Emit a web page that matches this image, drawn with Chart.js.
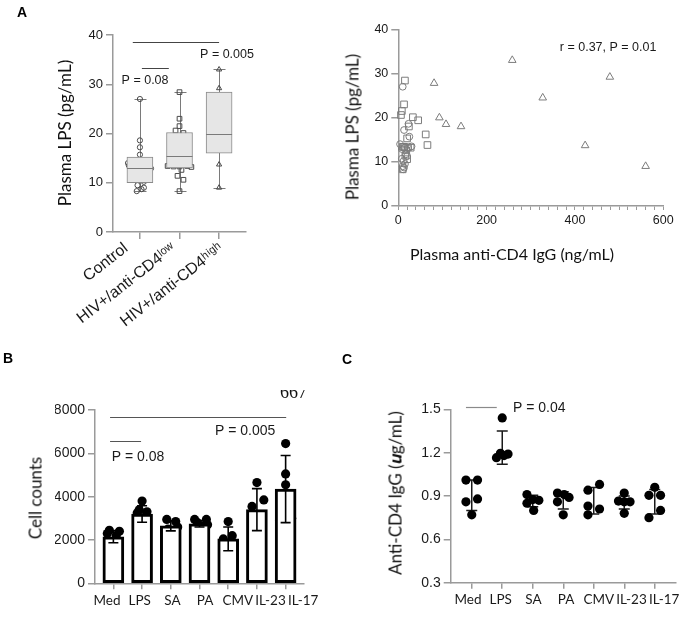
<!DOCTYPE html>
<html><head><meta charset="utf-8">
<script src="https://cdn.jsdelivr.net/npm/chart.js@4.4.1/dist/chart.umd.min.js"></script>
<style>
html,body{margin:0;padding:0;background:#fff;}
#wrap{position:relative;width:685px;height:627px;overflow:hidden;background:#fff;}
canvas{position:absolute;left:0;top:0;}
.pl{position:absolute;font-family:"Liberation Sans",Arial,sans-serif;font-weight:bold;font-size:14px;line-height:1;color:#000;}
.yt{position:absolute;transform:translate(-50%,-50%) rotate(-90deg);white-space:nowrap;font-family:Lato,"Open Sans",sans-serif;font-size:17px;line-height:1;color:#111;}
.xt{position:absolute;transform:translate(-50%,-50%);white-space:nowrap;font-family:Lato,"Open Sans",sans-serif;font-size:16px;line-height:1;color:#111;}
.cut{position:absolute;overflow:hidden;}
.cut span{display:block;font-family:"Liberation Serif","Times New Roman",serif;font-size:18px;line-height:1;color:#111;}
</style></head><body>
<div id="wrap">
<canvas id="cA1" width="685" height="627"></canvas>
<canvas id="cA2" width="685" height="627"></canvas>
<canvas id="cB" width="685" height="627"></canvas>
<canvas id="cC" width="685" height="627"></canvas>
<div class="pl" style="left:17px;top:5px">A</div>
<div class="pl" style="left:3px;top:351px">B</div>
<div class="pl" style="left:342px;top:352px">C</div>
<div class="yt" style="left:64px;top:133px">Plasma LPS (pg/mL)</div>
<div class="yt" style="left:352px;top:127px">Plasma LPS (pg/mL)</div>
<div class="xt" style="left:512px;top:254px">Plasma anti-CD4 IgG (ng/mL)</div>
<div class="yt" style="left:35px;top:498px">Cell counts</div>
<div class="yt" style="left:395px;top:493px">Anti-CD4 IgG (𝒖g/mL)</div>
<div class="cut" style="left:280px;top:390px;width:32px;height:9px"><span style="margin-top:-7px">667</span></div>
</div>
<script>
// ================= DATA =================
// Panel A (left): plasma LPS (pg/mL) per subject, by group
const groupLabels = ['Control', 'HIV+/anti-CD4ˡᵒʷ', 'HIV+/anti-CD4ʰⁱᵍʰ'];
const lpsControl = [27.0, 18.6, 17.2, 15.7, 14.0, 13.5, 13.2, 13.1, 12.9, 11.7, 11.3, 10.7, 10.2, 9.5, 9.0, 8.7, 8.3];
const lpsLow = [28.4, 23.0, 21.5, 20.6, 20.1, 19.4, 18.0, 16.2, 15.3, 13.8, 13.4, 13.3, 13.3, 13.2, 13.4, 12.6, 11.4, 10.6, 8.3];
const lpsHigh = [33.0, 29.2, 27.8, 24.5, 20.0, 18.5, 18.0, 13.7, 9.0];
const boxMin = [8.3, 8.3, 9.0];
const boxQ1 = [10.0, 13.0, 16.0];
const boxMedian = [13.0, 15.4, 20.0];
const boxQ3 = [15.2, 20.2, 28.4];
const boxMax = [27.0, 28.4, 33.0];
// Panel A (right): plasma anti-CD4 IgG (ng/mL), same subjects
const igControl = [10, 23, 13, 25, 4, 30, 14, 22, 8, 17, 20, 8, 12, 15, 10, 13, 11];
const igLow = [15, 13, 8, 6, 33, 45, 24, 62, 20, 66, 10, 14, 22, 28, 12, 18, 16, 20, 10];
const igHigh = [258, 479, 81, 327, 93, 108, 142, 423, 560];
// Panel B: cell counts
const stimLabels = ['Med', 'LPS', 'SA', 'PA', 'CMV', 'IL-23', 'IL-17'];
const cellMean = [2150, 3200, 2650, 2750, 2050, 3400, 4350];
const cellSD = [280, 380, 230, 150, 550, 970, 1550];
const cellsMed = [2450, 2400, 2300, 2200, 1650];
const cellsLPS = [3800, 3400, 3300, 3250, 2600];
const cellsSA = [2950, 2850, 2600, 2500, 2450];
const cellsPA = [2950, 2950, 2800, 2700, 2650];
const cellsCMV = [2850, 2200, 2050, 1850, 1450];
const cellsIL23 = [4650, 3850, 3550, 2950, 2000];
const cellsIL17 = [6450, 5050, 4550, 3000, 2900];
// Panel C: anti-CD4 IgG (ug/mL)
const abMean = [0.905, 1.235, 0.865, 0.87, 0.867, 0.855, 0.86];
const abSD = [0.105, 0.115, 0.04, 0.06, 0.092, 0.045, 0.085];
const abMed = [1.01, 1.01, 0.88, 0.86, 0.77];
const abLPS = [1.44, 1.195, 1.19, 1.18, 1.165];
const abSA = [0.91, 0.875, 0.87, 0.85, 0.80];
const abPA = [0.92, 0.91, 0.89, 0.86, 0.77];
const abCMV = [0.98, 0.94, 0.83, 0.81, 0.77];
const abIL23 = [0.92, 0.865, 0.86, 0.86, 0.78];
const abIL17 = [0.96, 0.905, 0.905, 0.80, 0.75];

// ================= LAYOUT / STYLE (horizontal spread of dots, in category units) =================
const jitControl = [0, 0, 0, 0, -0.3, -0.28, -0.08, 0.1, 0.28, -0.08, 0.1, -0.08, 0.1, -0.06, 0.1, 0.04, -0.08];
const jitLow = [0, 0, 0, -0.1, 0.1, -0.1, 0, 0.1, -0.1, 0.1, -0.3, -0.15, 0, 0.3, 0.2, 0.05, -0.05, 0.1, 0];
const jitHigh = [0, 0, 0, 0, 0, 0.12, -0.12, 0, 0];
const jitB = [[-0.14, 0.21, -0.21, 0.1, -0.03], [0, -0.1, 0.17, -0.17, 0], [-0.14, 0.17, 0.24, -0.1, 0.05],
  [-0.17, 0.24, -0.07, 0.28, 0.07], [0, 0.14, -0.17, 0.1, 0], [0, 0.24, -0.17, 0, 0], [0, 0, 0, 0.21, -0.21]];
const jitC = [[-0.19, 0.19, 0.19, -0.19, 0], [0, -0.06, 0.19, 0.06, -0.19], [-0.19, 0, 0.2, -0.19, 0.03],
  [-0.19, 0.03, 0.19, -0.19, 0], [0.19, -0.19, -0.19, 0.19, -0.19], [0, -0.19, 0.19, 0, 0], [0, -0.19, 0.19, 0.19, -0.19]];

const AXIS = '#9a9a9a';
const TXT = '#1a1a1a';
const ARIAL = "'Liberation Sans', Arial, sans-serif";
const CAL = "Lato, 'Open Sans', sans-serif";

// ================= PLUGINS =================
const notesPlugin = {
  id: 'notes',
  afterDraw(chart, args, o) {
    if (!o) return;
    const ctx = chart.ctx, xs = chart.scales.x, ys = chart.scales.y;
    ctx.save();
    (o.lines || []).forEach(l => {
      ctx.strokeStyle = l.color; ctx.lineWidth = l.width || 1;
      const py = Math.round(ys.getPixelForValue(l.y)) + 0.5;
      ctx.beginPath(); ctx.moveTo(xs.getPixelForValue(l.x1), py); ctx.lineTo(xs.getPixelForValue(l.x2), py); ctx.stroke();
    });
    (o.texts || []).forEach(t => {
      ctx.font = t.font; ctx.fillStyle = t.color || TXT; ctx.textAlign = t.align || 'center'; ctx.textBaseline = 'middle';
      ctx.fillText(t.text, xs.getPixelForValue(t.x), ys.getPixelForValue(t.y));
    });
    ctx.restore();
  }
};
const boxPlugin = {
  id: 'boxWhiskers',
  beforeDatasetsDraw(chart, args, o) {
    if (!o || !o.enabled) return;
    const ctx = chart.ctx, xs = chart.scales.x, ys = chart.scales.y;
    ctx.save(); ctx.strokeStyle = o.color; ctx.lineWidth = 1;
    boxMin.forEach((mn, i) => {
      const px = Math.round(xs.getPixelForValue(i)) + 0.5;
      const t = Math.round(ys.getPixelForValue(boxMax[i])) + 0.5, b = Math.round(ys.getPixelForValue(mn)) + 0.5;
      ctx.beginPath(); ctx.moveTo(px, t); ctx.lineTo(px, b);
      ctx.moveTo(px - o.cap, t); ctx.lineTo(px + o.cap, t);
      ctx.moveTo(px - o.cap, b); ctx.lineTo(px + o.cap, b);
      ctx.stroke();
    });
    ctx.restore();
  },
  afterDatasetDraw(chart, args, o) {
    if (!o || !o.enabled || args.index !== 0) return;
    const ctx = chart.ctx, xs = chart.scales.x, ys = chart.scales.y;
    const meta = chart.getDatasetMeta(0);
    ctx.save(); ctx.strokeStyle = o.color; ctx.lineWidth = 1;
    boxMedian.forEach((m, i) => {
      const px = xs.getPixelForValue(i), w = meta.data[i].width / 2;
      const py = Math.round(ys.getPixelForValue(m)) + 0.5;
      ctx.beginPath(); ctx.moveTo(px - w, py); ctx.lineTo(px + w, py); ctx.stroke();
    });
    ctx.restore();
  }
};
function drawErrors(chart, o, mean, sd) {
  const ctx = chart.ctx, xs = chart.scales.x, ys = chart.scales.y;
  ctx.save(); ctx.strokeStyle = o.color; ctx.lineWidth = o.width;
  mean.forEach((m, i) => {
    const px = xs.getPixelForValue(i);
    const t = ys.getPixelForValue(m + sd[i]), b = ys.getPixelForValue(m - sd[i]);
    ctx.beginPath(); ctx.moveTo(px, t); ctx.lineTo(px, b);
    ctx.moveTo(px - o.cap, t); ctx.lineTo(px + o.cap, t);
    ctx.moveTo(px - o.cap, b); ctx.lineTo(px + o.cap, b);
    ctx.stroke();
  });
  ctx.restore();
}
const errPluginB = {
  id: 'errB',
  afterDatasetDraw(chart, args, o) { if (args.index === 0) drawErrors(chart, o, cellMean, cellSD); }
};
const errPluginC = {
  id: 'errC',
  beforeDatasetsDraw(chart, args, o) { drawErrors(chart, o, abMean, abSD); }
};

function base(pad) {
  return { responsive: false, animation: false, events: [], devicePixelRatio: 1,
    layout: { padding: pad }, plugins: { legend: { display: false }, tooltip: { enabled: false } } };
}
function yScale(min, max, step, width, fontSize, cb) {
  return { type: 'linear', min, max, afterFit: s => { s.width = width; },
    border: { color: AXIS, width: 1.5 },
    grid: { drawOnChartArea: false, drawTicks: true, tickLength: 7, color: AXIS, lineWidth: 1.5 },
    ticks: { stepSize: step, padding: 3, color: TXT, font: { family: ARIAL, size: fontSize }, callback: cb || (v => String(v)) } };
}
// main bottom axis (line + tick marks) and a separate label row
function catAxes(min, max, lmin, lmax, tickLen, labelH, labelTicks) {
  return {
    x: { type: 'linear', min, max, offset: false, weight: 0, afterFit: s => { s.height = tickLen; },
      border: { color: AXIS, width: 1.5 },
      grid: { drawOnChartArea: false, drawTicks: true, tickLength: tickLen, color: AXIS, lineWidth: 1.5, offset: false },
      ticks: { display: false, stepSize: 1, includeBounds: false, autoSkip: false } },
    xl: { type: 'linear', axis: 'x', position: 'bottom', weight: 1, min: lmin, max: lmax, offset: false,
      afterFit: s => { s.height = labelH; },
      border: { display: false }, grid: { display: false, drawTicks: false, offset: false },
      ticks: Object.assign({ stepSize: 1, includeBounds: false, autoSkip: false, color: TXT }, labelTicks) }
  };
}

// ================= PANEL A (left): box plot =================
(function () {
  const o = base({ left: 73, right: 439, top: 35, bottom: 288 });
  o.plugins.boxWhiskers = { enabled: true, color: '#7a7a7a', cap: 6 };
  o.plugins.notes = {
    lines: [{ x1: -0.18, x2: 2.0, y: 38.6, color: '#444', width: 1 }, { x1: 0.05, x2: 0.73, y: 33.3, color: '#444', width: 1 }],
    texts: [{ x: 0.13, y: 30.8, text: 'P = 0.08', font: '12.5px ' + ARIAL }, { x: 2.2, y: 36.1, text: 'P = 0.005', font: '12.5px ' + ARIAL }]
  };
  o.scales = Object.assign(catAxes(-0.68, 2.68, -0.274, 2.526, 7, 100, {
    minRotation: 38, maxRotation: 38, padding: 0, font: { family: ARIAL, size: 16 }, callback: v => groupLabels[v] ?? ''
  }), { y: yScale(0, 40, 10, 40, 13) });
  const pt = { pointBorderColor: '#4a4a4a', pointBackgroundColor: 'rgba(255,255,255,0)', pointBorderWidth: 1, clip: false, xAxisID: 'x', yAxisID: 'y' };
  new Chart(document.getElementById('cA1'), {
    type: 'scatter',
    data: { datasets: [
      { type: 'bar', data: boxQ1.map((q, i) => ({ x: i, y: [q, boxQ3[i]] })), backgroundColor: '#e6e6e6', borderColor: '#8a8a8a',
        borderWidth: 1, borderSkipped: false, barThickness: 26, clip: false, xAxisID: 'x', yAxisID: 'y' },
      Object.assign({ data: lpsControl.map((v, k) => ({ x: 0 + jitControl[k], y: v })), pointStyle: 'circle', pointRadius: 2.6 }, pt),
      Object.assign({ data: lpsLow.map((v, k) => ({ x: 1 + jitLow[k], y: v })), pointStyle: 'rect', pointRadius: 3.3 }, pt),
      Object.assign({ data: lpsHigh.map((v, k) => ({ x: 2 + jitHigh[k], y: v })), pointStyle: 'triangle', pointRadius: 3.0 }, pt)
    ] },
    options: o,
    plugins: [boxPlugin, notesPlugin]
  });
})();

// ================= PANEL A (right): correlation scatter =================
(function () {
  const o = base({ left: 368.3, right: 21.7, top: 29.3, bottom: 391 });
  o.plugins.notes = { texts: [{ x: 475, y: 35.9, text: 'r = 0.37, P = 0.01', font: '12.5px ' + ARIAL }] };
  o.scales = {
    x: { type: 'linear', min: 0, max: 600, afterFit: s => { s.height = 30; },
      border: { color: AXIS, width: 1.5 },
      grid: { drawOnChartArea: false, drawTicks: true, tickLength: 4, color: AXIS, lineWidth: 1 },
      ticks: { stepSize: 20, autoSkip: false, minRotation: 0, maxRotation: 0, padding: 3, color: TXT,
        font: { family: ARIAL, size: 12.5 }, callback: v => (v % 200 === 0 ? String(v) : '') } },
    y: yScale(0, 40, 10, 30, 12.5)
  };
  const pt = { pointBorderColor: '#7d7d7d', pointBackgroundColor: 'rgba(255,255,255,0)', pointBorderWidth: 1, clip: false };
  new Chart(document.getElementById('cA2'), {
    type: 'scatter',
    data: { datasets: [
      Object.assign({ data: igControl.map((x, k) => ({ x, y: lpsControl[k] })), pointStyle: 'circle', pointRadius: 3.4 }, pt),
      Object.assign({ data: igLow.map((x, k) => ({ x, y: lpsLow[k] })), pointStyle: 'rect', pointRadius: 4.7 }, pt),
      Object.assign({ data: igHigh.map((x, k) => ({ x, y: lpsHigh[k] })), pointStyle: 'triangle', pointRadius: 4.4 }, pt)
    ] },
    options: o,
    plugins: [notesPlugin]
  });
})();

const stimTicks = { minRotation: 0, maxRotation: 0, padding: 3, font: { family: CAL, size: 13.5 }, callback: v => stimLabels[v] ?? '' };

// ================= PANEL B: bars =================
(function () {
  const groups = [cellsMed, cellsLPS, cellsSA, cellsPA, cellsCMV, cellsIL23, cellsIL17];
  const dots = [];
  groups.forEach((g, i) => g.forEach((v, k) => dots.push({ x: i + jitB[i][k], y: v })));
  const o = base({ left: 55, right: 381, top: 410, bottom: 13.7 });
  o.plugins.errB = { color: '#000', width: 1.6, cap: 5 };
  o.plugins.notes = {
    lines: [{ x1: -0.115, x2: 6.02, y: 7675, color: '#555', width: 1 }, { x1: -0.115, x2: 0.965, y: 6568, color: '#555', width: 1 }],
    texts: [{ x: -0.056, y: 5806, text: 'P = 0.08', align: 'left', font: '14px ' + ARIAL },
      { x: 4.59, y: 7029, text: 'P = 0.005', font: '14px ' + ARIAL }]
  };
  o.scales = Object.assign(catAxes(-0.64, 6.64, -0.367, 6.024, 6, 24, stimTicks), { y: yScale(0, 8000, 2000, 40, 14) });
  new Chart(document.getElementById('cB'), {
    type: 'scatter',
    data: { datasets: [
      { type: 'bar', data: cellMean.map((m, i) => ({ x: i, y: m })), backgroundColor: '#fff', borderColor: '#000',
        borderWidth: 3, borderSkipped: false, barThickness: 21, clip: false, xAxisID: 'x', yAxisID: 'y' },
      { data: dots, pointStyle: 'circle', pointRadius: 4.6, pointBackgroundColor: '#000', pointBorderColor: '#000',
        pointBorderWidth: 0, clip: false, xAxisID: 'x', yAxisID: 'y' }
    ] },
    options: o,
    plugins: [errPluginB, notesPlugin]
  });
})();

// ================= PANEL C: dot plot =================
(function () {
  const groups = [abMed, abLPS, abSA, abPA, abCMV, abIL23, abIL17];
  const dots = [];
  groups.forEach((g, i) => g.forEach((v, k) => dots.push({ x: i + jitC[i][k], y: v })));
  const o = base({ left: 410.7, right: 9.2, top: 409.3, bottom: 14.3 });
  o.plugins.errC = { color: '#1a1a1a', width: 1.5, cap: 5.5 };
  o.plugins.notes = {
    lines: [{ x1: -0.19, x2: 0.82, y: 1.518, color: '#8a8a8a', width: 1.2 }],
    texts: [{ x: 1.35, y: 1.509, text: 'P = 0.04', align: 'left', font: '14px ' + ARIAL }]
  };
  o.scales = Object.assign(catAxes(-0.69, 6.69, -0.529, 6.355, 6, 24, stimTicks), { y: yScale(0.3, 1.5, 0.3, 40, 14, v => v.toFixed(1)) });
  new Chart(document.getElementById('cC'), {
    type: 'scatter',
    data: { datasets: [
      { data: dots, pointStyle: 'circle', pointRadius: 4.6, pointBackgroundColor: '#000', pointBorderColor: '#000',
        pointBorderWidth: 0, clip: false, xAxisID: 'x', yAxisID: 'y' }
    ] },
    options: o,
    plugins: [errPluginC, notesPlugin]
  });
})();
</script>
</body></html>
